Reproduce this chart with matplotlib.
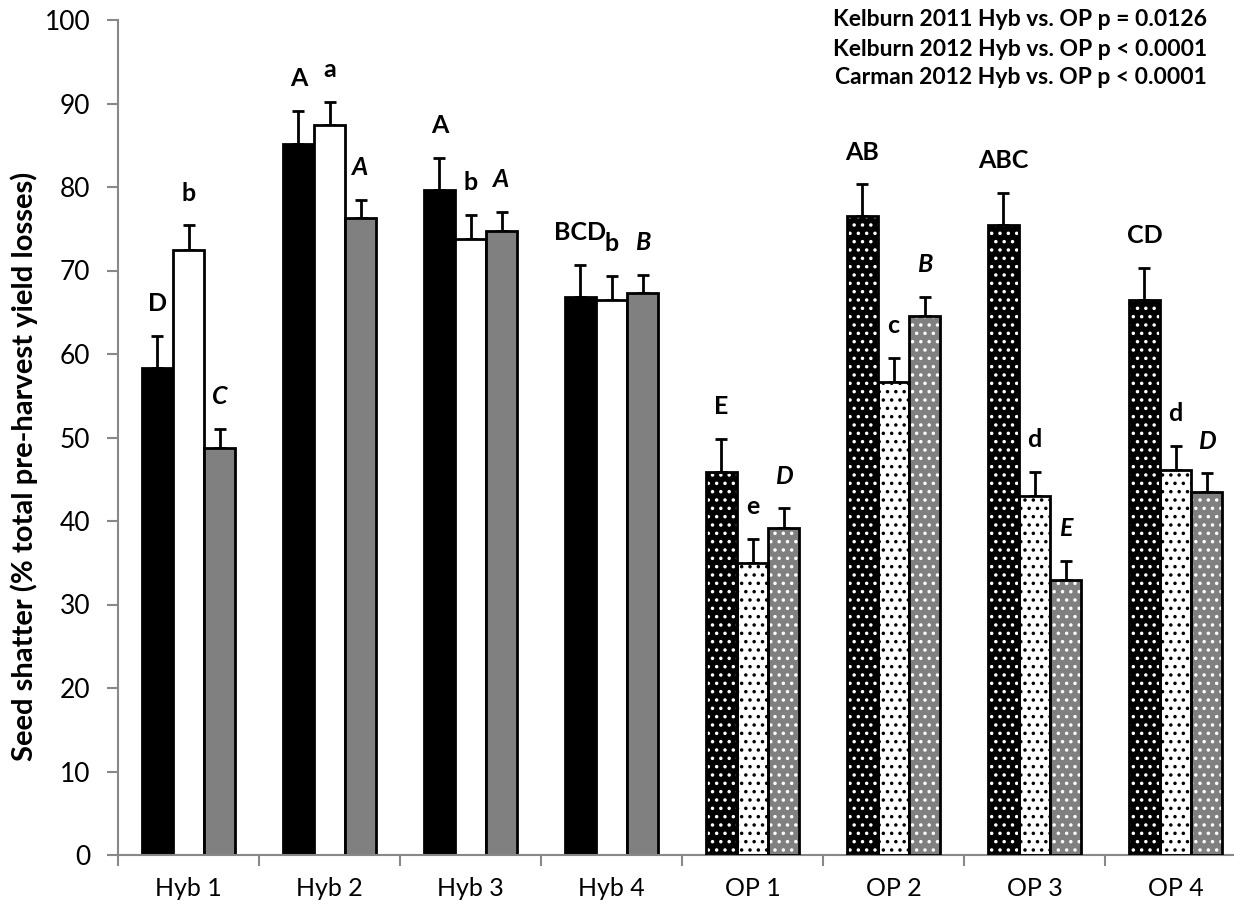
import numpy as np
import matplotlib
matplotlib.use('Agg')
from matplotlib import pyplot as plt

# Values
groups = ['Hyb 1', 'Hyb 2', 'Hyb 3', 'Hyb 4', 'OP 1', 'OP 2', 'OP 3', 'OP 4']
kel2011 = [58.3, 85.2, 79.7, 66.8, 45.9, 76.5, 75.5, 66.5]
kel2011_err = [3.9, 3.9, 3.8, 3.9, 3.9, 3.8, 3.8, 3.8]
kel2012 = [72.5, 87.4, 73.8, 66.5, 35.0, 56.6, 43.0, 46.1]
kel2012_err = [2.9, 2.8, 2.9, 2.8, 2.8, 2.9, 2.9, 2.9]
car2012 = [48.8, 76.3, 74.7, 67.3, 39.2, 64.5, 32.9, 43.5]
car2012_err = [2.2, 2.2, 2.3, 2.2, 2.3, 2.3, 2.3, 2.2]
letters2011 = ['D', 'A', 'A', 'BCD', 'E', 'AB', 'ABC', 'CD']
letters2012 = ['b', 'a', 'b', 'b', 'e', 'c', 'd', 'd']
lettersCar = ['C', 'A', 'A', 'B', 'D', 'B', 'E', 'D']
pvals = ['Kelburn 2011 Hyb vs. OP p = 0.0126',
         'Kelburn 2012 Hyb vs. OP p < 0.0001',
         'Carman 2012 Hyb vs. OP p < 0.0001']

plt.rcParams['font.family'] = ['Lato', 'DejaVu Sans']
plt.rcParams['hatch.linewidth'] = 1.3

fig = plt.figure(figsize=(12.34, 9.11), dpi=100)
ax = fig.add_axes([118/1234, 56/911, 1128/1234, 835/911])

x = np.arange(len(groups))
w = 0.22
nHyb = 4  # first four groups are hybrids (solid), rest are OP (dotted)

series = [
    (kel2011, kel2011_err, -w, 'black', 'white'),
    (kel2012, kel2012_err, 0.0, 'white', 'black'),
    (car2012, car2012_err, w, '#808080', 'white'),
]
for vals, errs, off, face, dotcol in series:
    vals = np.asarray(vals)
    pos = x + off
    # solid hybrids
    ax.bar(pos[:nHyb], vals[:nHyb], w, color=face, edgecolor='black', linewidth=2, zorder=2)
    # dotted OP: fill+hatch first, then outline on top
    ax.bar(pos[nHyb:], vals[nHyb:], w, color=face, edgecolor=dotcol, linewidth=0, hatch='..', zorder=2)
    ax.bar(pos[nHyb:], vals[nHyb:], w, fill=False, edgecolor='black', linewidth=2, zorder=3)
    ax.errorbar(pos, vals, yerr=[np.zeros(len(vals)), errs], fmt='none', ecolor='black',
                elinewidth=2, capsize=4, capthick=2, zorder=1)

# significance letters
lfs = 18
gap = 2.5
for i in range(len(groups)):
    ax.text(x[i] - w, kel2011[i] + kel2011_err[i] + gap, letters2011[i], ha='center', va='bottom',
            fontsize=lfs, fontweight='bold')
    ax.text(x[i], kel2012[i] + kel2012_err[i] + gap, letters2012[i], ha='center', va='bottom',
            fontsize=lfs, fontweight='bold')
    ax.text(x[i] + w, car2012[i] + car2012_err[i] + gap, lettersCar[i], ha='center', va='bottom',
            fontsize=lfs, fontweight='bold', fontstyle='italic')

for k, s in enumerate(pvals):
    ax.text(1207/1234, (911 - 20 - k*29)/911, s, transform=fig.transFigure, ha='right', va='center',
            fontsize=16.5, fontweight='bold')

ax.set_xlim(-0.5, len(groups) - 0.5)
ax.set_ylim(0, 100)
ax.set_yticks(np.arange(0, 101, 10))
ax.set_xticks(x)
ax.set_xticklabels(groups, fontsize=18)
ax.set_xticks(np.arange(-0.5, len(groups), 1.0), minor=True)
ax.tick_params(axis='x', which='major', length=0, pad=16)
ax.tick_params(axis='x', which='minor', length=8, width=1.5, color='#888888', direction='out')
ax.tick_params(axis='y', length=8, width=1.5, color='#888888', labelsize=19, pad=12)
for side in ['top', 'right']:
    ax.spines[side].set_visible(False)
for side in ['left', 'bottom']:
    ax.spines[side].set_color('#888888')
    ax.spines[side].set_linewidth(1.5)
ax.set_ylabel('Seed shatter (% total pre-harvest yield losses)', fontsize=21, fontweight='bold')
ax.yaxis.set_label_coords(-0.071, 0.465)

fig.savefig('out.png', dpi=100)
